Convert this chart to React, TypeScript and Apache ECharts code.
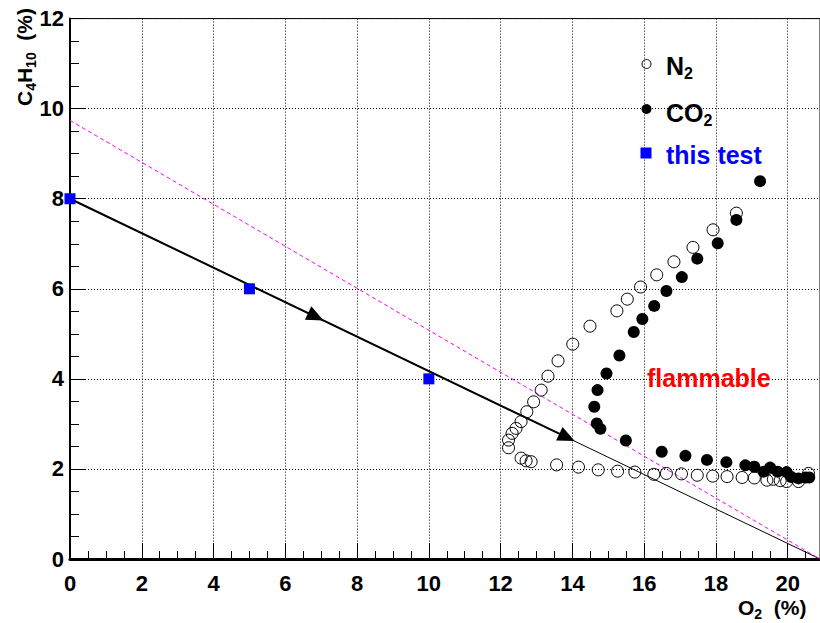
import React, { useEffect, useRef } from "react";
import * as echarts from "echarts";

// ---- data ----
const xTicks = [0, 2, 4, 6, 8, 10, 12, 14, 16, 18, 20];
const yTicks = [0, 2, 4, 6, 8, 10, 12];

const n2Points: number[][] = [
  [12.22, 2.47], [12.22, 2.64], [12.32, 2.79], [12.43, 2.9], [12.57, 3.05], [12.73, 3.27],
  [12.92, 3.49], [13.13, 3.75], [13.32, 4.06], [13.6, 4.4], [14.01, 4.77], [14.49, 5.17],
  [15.24, 5.51], [15.53, 5.77], [15.9, 6.04], [16.35, 6.31], [16.83, 6.6], [17.36, 6.92],
  [17.92, 7.31], [18.57, 7.68],
  [12.57, 2.24], [12.71, 2.18], [12.85, 2.16], [13.56, 2.09], [14.17, 2.04], [14.72, 1.98],
  [15.26, 1.95], [15.74, 1.93], [16.27, 1.88], [16.62, 1.9], [17.04, 1.89], [17.48, 1.86],
  [17.91, 1.84], [18.31, 1.83], [18.73, 1.81], [19.07, 1.8], [19.42, 1.75], [19.6, 1.77],
  [19.79, 1.74], [19.97, 1.72], [20.3, 1.72], [20.58, 1.9],
];

const co2Points: number[][] = [
  [14.7, 3.75], [14.95, 4.12], [15.31, 4.52], [15.71, 5.04], [15.95, 5.33], [16.28, 5.62],
  [16.62, 5.95], [17.05, 6.26], [17.48, 6.67], [18.05, 7.01], [18.57, 7.53], [19.23, 8.39],
  [14.61, 3.38], [14.68, 3.01], [14.78, 2.89],
  [15.49, 2.63], [16.49, 2.38], [17.15, 2.29], [17.75, 2.2], [18.29, 2.15], [18.82, 2.08],
  [19.07, 2.05], [19.33, 1.94], [19.51, 2.03], [19.72, 1.94], [19.97, 1.93], [20.1, 1.82],
  [20.3, 1.79], [20.5, 1.81], [20.6, 1.81],
];

const thisTestPoints: number[][] = [[0, 8], [5, 6], [10, 4]];

const boundaryLine: number[][] = [[0, 8], [20.9, 0]];
const thickSegment: number[][] = [[0, 8], [13.85, 2.7]];
const arrowPoints: number[][] = [[6.85, 5.38], [13.85, 2.7]];
const magentaLine: number[][] = [[0, 9.74], [20.9, 0]];

const X_MAX = 20.9;
const FONT = "'Liberation Sans', Arial, Helvetica, sans-serif";

export default function App() {
  const ref = useRef<HTMLDivElement>(null);

  useEffect(() => {
    if (!ref.current) return;
    const chart = echarts.init(ref.current, undefined, { renderer: "svg" });

    const gridLeft = 70;
    const gridTop = 18.6;
    const gridWidth = 753;
    const gridHeight = 540.4;
    // pixel slope of the boundary line for arrow orientation
    const angle =
      (Math.atan(((boundaryLine[0][1] - boundaryLine[1][1]) / 12 * gridHeight) /
        ((boundaryLine[1][0] - boundaryLine[0][0]) / X_MAX * gridWidth)) * 180) / Math.PI;

    const tickLabel = {
      fontSize: 22,
      fontWeight: "bold" as const,
      color: "#000",
      fontFamily: FONT,
    };

    const legendRich = {
      a: { fontSize: 25, fontWeight: "bold", fontFamily: FONT, lineHeight: 30, color: "#000" },
      s: { fontSize: 16, fontWeight: "bold", fontFamily: FONT, lineHeight: 9, verticalAlign: "bottom", color: "#000" },
    };
    const titleRich = {
      a: { fontSize: 21, fontWeight: "bold", fontFamily: FONT, lineHeight: 26, color: "#000" },
      s: { fontSize: 14, fontWeight: "bold", fontFamily: FONT, lineHeight: 11.6, verticalAlign: "bottom", color: "#000" },
    };

    chart.setOption({
      animation: false,
      backgroundColor: "#fff",
      grid: {
        left: gridLeft,
        top: gridTop,
        width: gridWidth,
        height: gridHeight,
        show: true,
        borderColor: "#000",
        borderWidth: 1,
        backgroundColor: "transparent",
      },
      xAxis: [
        {
          type: "value",
          min: 0,
          max: X_MAX,
          interval: 2,
          position: "bottom",
          axisLine: { show: true, onZero: false, lineStyle: { color: "#000", width: 3 } },
          axisTick: { show: true, inside: true, length: 16, lineStyle: { color: "#000", width: 1 } },
          axisLabel: {
            ...tickLabel,
            margin: 13,
            customValues: xTicks,
          },
          splitLine: { show: true, lineStyle: { color: "#000", width: 1, type: [1, 2] } },
        },
        {
          type: "value",
          min: 0,
          max: X_MAX,
          interval: 0.5,
          position: "bottom",
          axisLine: { show: false },
          axisTick: { show: true, inside: true, length: 8, lineStyle: { color: "#000", width: 1 } },
          axisLabel: { show: false },
          splitLine: { show: false },
        },
      ],
      yAxis: {
        type: "value",
        min: 0,
        max: 12,
        interval: 2,
        axisLine: { show: true, onZero: false, lineStyle: { color: "#000", width: 2 } },
        axisTick: { show: true, inside: true, length: 16, lineStyle: { color: "#000", width: 1 } },
        minorTick: { show: true, splitNumber: 4, length: 9, lineStyle: { color: "#000", width: 1 } },
        axisLabel: { ...tickLabel, margin: 6, customValues: yTicks },
        splitLine: { show: true, lineStyle: { color: "#000", width: 1, type: [1, 2] } },
      },
      series: [
        {
          type: "line",
          data: boundaryLine,
          symbol: "none",
          lineStyle: { color: "#000", width: 1 },
          z: 3,
        },
        {
          type: "line",
          data: thickSegment,
          symbol: "none",
          lineStyle: { color: "#000", width: 2 },
          z: 3,
        },
        {
          type: "line",
          data: magentaLine,
          symbol: "none",
          lineStyle: { color: "#ff00ff", width: 1, type: [4, 3] },
          z: 3,
        },
        {
          type: "scatter",
          data: arrowPoints,
          symbol: "triangle",
          symbolSize: [15, 17],
          symbolRotate: -(90 + angle),
          itemStyle: { color: "#000", opacity: 1 },
          z: 4,
        },
        {
          type: "scatter",
          name: "N2",
          data: n2Points,
          symbol: "circle",
          symbolSize: 12,
          clip: false,
          itemStyle: { color: "rgba(0,0,0,0)", borderColor: "#000", borderWidth: 1, opacity: 1 },
          z: 5,
        },
        {
          type: "scatter",
          name: "CO2",
          data: co2Points,
          symbol: "circle",
          symbolSize: 12,
          clip: false,
          itemStyle: { color: "#000", opacity: 1 },
          z: 6,
        },
        {
          type: "scatter",
          name: "this test",
          data: thisTestPoints,
          symbol: "rect",
          symbolSize: 11,
          clip: false,
          itemStyle: { color: "#0000ff", opacity: 1 },
          z: 7,
        },
      ],
      graphic: [
        // legend
        { type: "circle", shape: { cx: 646.5, cy: 64, r: 4.5 }, style: { fill: "none", stroke: "#000", lineWidth: 1 }, z: 10 },
        { type: "circle", shape: { cx: 646.5, cy: 109, r: 5 }, style: { fill: "#000" }, z: 10 },
        { type: "rect", shape: { x: 640.5, y: 147.5, width: 11, height: 11 }, style: { fill: "#0000ff" }, z: 10 },
        {
          type: "text", x: 666, y: 66.3, z: 10,
          style: { text: "{a|N}{s|2}", rich: legendRich, align: "left", verticalAlign: "middle" },
        },
        {
          type: "text", x: 666, y: 113.3, z: 10,
          style: { text: "{a|CO}{s|2}", rich: legendRich, align: "left", verticalAlign: "middle" },
        },
        {
          type: "text", x: 666, y: 154.6, z: 10,
          style: { text: "this test", fill: "#0000ff", font: `bold 25px ${FONT}`, align: "left", verticalAlign: "middle" },
        },
        {
          type: "text", x: 647, y: 378, z: 10,
          style: { text: "flammable", fill: "#ff0000", font: `bold 25px ${FONT}`, align: "left", verticalAlign: "middle" },
        },
        // axis titles
        {
          type: "text", x: 738, y: 607.7, z: 10,
          style: { text: "{a|O}{s|2}{a|  (%)}", rich: titleRich, align: "left", verticalAlign: "middle" },
        },
        {
          type: "text", x: 24.6, y: 8, rotation: Math.PI / 2, z: 10,
          style: { text: "{a|C}{s|4}{a|H}{s|10}{a|  (%)}", rich: titleRich, align: "right", verticalAlign: "middle" },
        },
      ],
    });

    return () => chart.dispose();
  }, []);

  return (
    <div
      ref={ref}
      style={{ position: "fixed", left: 0, top: 0, width: 820, height: 623, background: "#fff" }}
    />
  );
}
